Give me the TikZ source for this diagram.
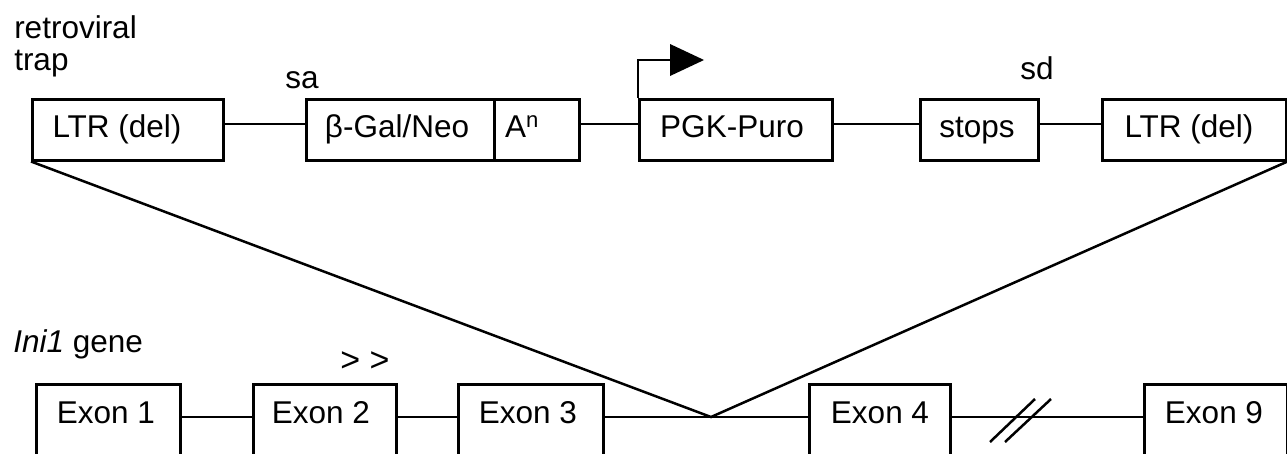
\documentclass[tikz,border=0pt]{standalone}
\usepackage{fontspec}
\setmainfont{Liberation Sans}
\begin{document}
\begin{tikzpicture}[x=1pt,y=-1pt,line width=2.5pt,
  box/.style={draw,line width=2.5pt,anchor=north west,inner sep=0pt,minimum height=#1},
  box/.default=61,
  txt/.style={anchor=base,inner sep=0pt,font=\fontsize{31.5}{37}\selectfont},
  ltxt/.style={anchor=base west,inner sep=0pt,font=\fontsize{31.5}{37}\selectfont}]
\useasboundingbox (0,0) rectangle (1287,453);
\clip (0,0) rectangle (1287,453);
% top row: retroviral trap
\node[box,minimum width=191] (ltrL) at (31,98) {};
\node[box,minimum width=188] (bgal) at (305,98) {};
\node[box,minimum width=85] (an) at (493,98) {};
\node[box,minimum width=193] (pgk) at (638,98) {};
\node[box,minimum width=118] (stops) at (919,98) {};
\node[box,minimum width=184] (ltrR) at (1101,98) {};
\node[txt] (tltrL) at (117,137) {LTR (del)};
\node[txt] (tbgal) at (397,137) {β-Gal/Neo};
\node[txt] (tan) at (522,137) {A\textsuperscript{n}};
\node[txt] (tpgk) at (732,137) {PGK-Puro};
\node[txt] (tstops) at (977,137) {stops};
\node[txt] (tltrR) at (1189,137) {LTR (del)};
\node[ltxt] (lretro) at (13,38) {retroviral};
\node[ltxt] (ltrap) at (13,70) {trap};
\node[txt] (lsa) at (302,88) {sa};
\node[txt] (lsd) at (1037,79) {sd};
\coordinate (lvl) at (0,124);
\draw (ltrL.east |- lvl) -- (bgal.west |- lvl);
\draw (an.east |- lvl) -- (pgk.west |- lvl);
\draw (pgk.east |- lvl) -- (stops.west |- lvl);
\draw (stops.east |- lvl) -- (ltrR.west |- lvl);
% promoter arrow
\coordinate (pr) at (672,60);
\draw (pgk.north west) |- (pr);
\fill (670,44) -- (704,60) -- (670,76) -- cycle;
% bottom row: Ini1 gene
\node[box=100,minimum width=144] (ex1) at (35,383) {};
\node[box=100,minimum width=143] (ex2) at (252,383) {};
\node[box=100,minimum width=145] (ex3) at (457,383) {};
\node[box=100,minimum width=141] (ex4) at (808,383) {};
\node[box=100,minimum width=143] (ex9) at (1143,383) {};
\node[txt] (tex1) at (106,423) {Exon 1};
\node[txt] (tex2) at (321,423) {Exon 2};
\node[txt] (tex3) at (528,423) {Exon 3};
\node[txt] (tex4) at (880,423) {Exon 4};
\node[txt] (tex9) at (1214,423) {Exon 9};
\node[ltxt] (lgene) at (12,352) {\textit{Ini1} gene};
\node[txt,anchor=center,font=\fontsize{34}{37}\selectfont] (lprim) at (365,362) {> >};
\coordinate (jct) at (711,417);
\draw (ex1.east |- jct) -- (ex2.west |- jct);
\draw (ex2.east |- jct) -- (ex3.west |- jct);
\draw (ex3.east |- jct) -- (ex4.west |- jct);
\draw (ex4.east |- jct) -- (ex9.west |- jct);
\draw (990,442) -- (1035,399);
\draw (1005,442) -- (1051,399);
% insertion lines
\draw (ltrL.south west) -- (jct) -- (ltrR.south east);
\end{tikzpicture}
\end{document}
